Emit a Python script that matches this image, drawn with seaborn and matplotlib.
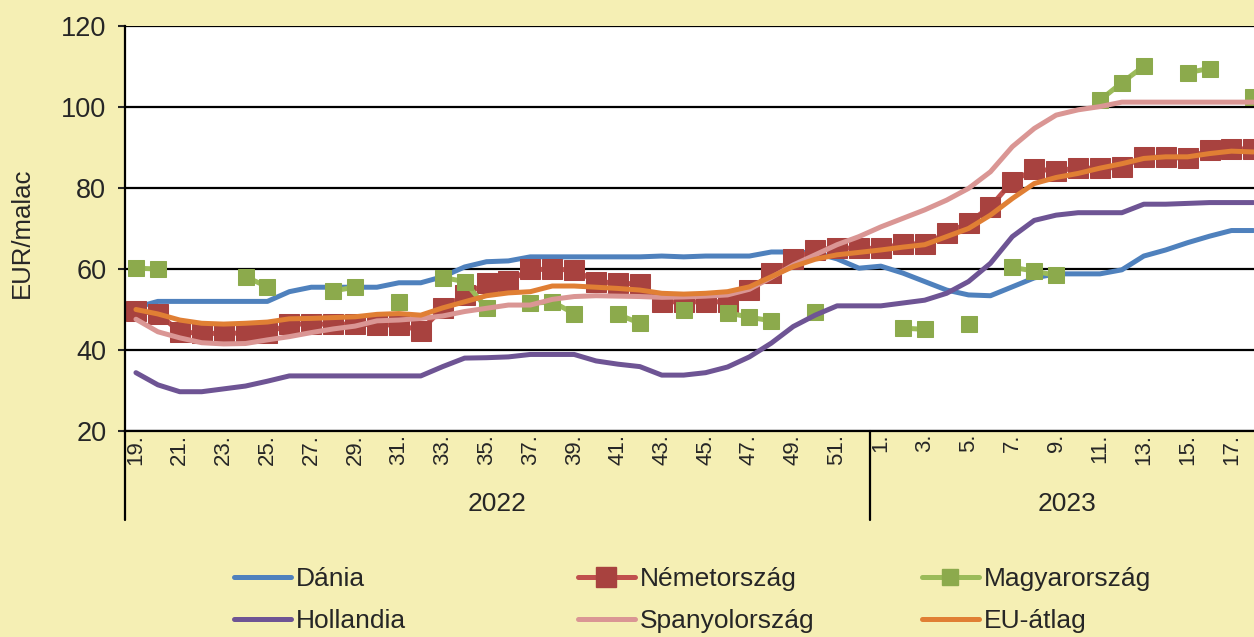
import matplotlib
matplotlib.use("Agg")
import matplotlib.pyplot as plt
import matplotlib.transforms as mtransforms
from matplotlib.lines import Line2D
import seaborn as sns
import pandas as pd
import numpy as np

# hetek: 2022. 19-52. hét, 2023. 1-18. hét
weeks_2022 = list(range(19, 53))
weeks_2023 = list(range(1, 19))
week_labels = [f"{w}." for w in weeks_2022 + weeks_2023]

dania = [50.5, 52, 52, 52, 52, 52, 52, 54.4, 55.5, 55.5, 55.5, 55.5, 56.6, 56.6, 58.1, 60.5, 61.8,
         62, 63, 63, 63, 63, 63, 63, 63.2, 63, 63.2, 63.2, 63.2, 64.2, 64.2, 64, 62.5, 60.2,
         60.7, 59, 56.9, 54.8, 53.6, 53.4, 55.6, 57.8, 58.8, 58.8, 58.8, 59.8, 63.2, 64.7, 66.5, 68.1, 69.5, 69.5]
nemetorszag = [49.6, 49, 44.5, 44.1, 44.1, 44.2, 44.2, 46.4, 46.4, 46.4, 46.4, 46.2, 46.2, 44.8, 50.3, 53.6, 56.5,
               57, 59.9, 59.9, 59.8, 56.9, 56.5, 56.3, 51.9, 51.9, 51.9, 51.9, 54.8, 58.9, 62.5, 64.7, 65.2, 65.1,
               65.1, 66.2, 66.2, 68.8, 71.4, 75.4, 81.6, 84.6, 84.3, 84.9, 84.9, 85.1, 87.6, 87.6, 87.3, 89.4, 89.7, 89.6]
magyarorszag = [60.2, 60, None, None, None, 58.1, 55.6, None, None, 54.6, 55.5, None, 51.9, None, 57.9, 56.9, 50.4,
                None, 51.5, 51.9, 49, None, 48.8, 46.6, None, 50, None, 49.2, 48.1, 47.2, None, 49.5, None, None,
                None, 45.4, 45.1, None, 46.4, None, 60.4, 59.5, 58.4, None, 101.7, 106, 110.1, None, 108.5, 109.5, None, 102.4]
hollandia = [34.4, 31.4, 29.7, 29.7, 30.4, 31.1, 32.3, 33.6, 33.6, 33.6, 33.6, 33.6, 33.6, 33.6, 35.9, 38, 38.1,
             38.3, 38.9, 38.9, 38.9, 37.3, 36.5, 35.9, 33.8, 33.8, 34.4, 35.8, 38.3, 41.7, 45.8, 48.6, 50.9, 50.9,
             50.9, 51.6, 52.3, 54, 56.9, 61.4, 68, 72, 73.3, 73.9, 73.9, 73.9, 76, 76, 76.2, 76.4, 76.4, 76.4]
spanyolorszag = [47.6, 44.5, 43, 41.8, 41.5, 41.6, 42.5, 43.3, 44.3, 45.2, 45.9, 47.2, 47.4, 47.8, 48.4, 49.5, 50.3,
                 51.1, 51.1, 52.5, 53.2, 53.4, 53.3, 53.2, 53, 53.1, 53.3, 53.6, 55, 57.9, 61, 63.5, 66, 68,
                 70.4, 72.5, 74.6, 77, 79.9, 84, 90.2, 94.7, 98, 99.3, 100.1, 101.2, 101.2, 101.2, 101.2, 101.2, 101.2, 101.2]
eu_atlag = [50, 48.9, 47.4, 46.6, 46.4, 46.6, 46.9, 47.7, 47.8, 48, 48.2, 48.8, 49, 48.6, 50.4, 51.9, 53.4,
            54.1, 54.4, 55.8, 55.8, 55.5, 55.2, 54.8, 54, 53.8, 54, 54.4, 55.6, 58.1, 60.6, 62.4, 63.5, 64.1,
            64.7, 65.4, 66, 68, 70, 73.3, 77.4, 81.1, 82.6, 83.6, 84.9, 86, 87.3, 87.7, 87.7, 88.5, 89.1, 88.9]

series = [
    ("Dánia", dania, "#4F81BD", None, None),
    ("Németország", nemetorszag, "#C0504D", "s", "#A8423F"),
    ("Magyarország", magyarorszag, "#9BBB59", "s", "#8CAA4C"),
    ("Hollandia", hollandia, "#6E5494", None, None),
    ("Spanyolország", spanyolorszag, "#DA9694", None, None),
    ("EU-átlag", eu_atlag, "#E07F34", None, None),
]

bg = "#F5EFB4"
sns.set_theme(style="white")
plt.rcParams['font.family'] = ['Liberation Sans', 'DejaVu Sans']

fig = plt.figure(figsize=(12.54, 6.37), dpi=100, facecolor=bg)
ax = fig.add_axes([125 / 1254, 1 - 431 / 637, (1254 - 125) / 1254, (431 - 26) / 637])
ax.set_facecolor("white")

x = np.arange(len(week_labels))
for name, vals, color, marker, mcolor in series:
    v = pd.Series(vals, dtype=float)
    # folytonos szakaszok (hiányzó hetek megszakítják a vonalat)
    seg = v.isna().cumsum()
    df = pd.DataFrame({"k": x, "v": v, "seg": seg}).dropna()
    kw = dict(color=color, linewidth=3.6, legend=False, ax=ax, units="seg", estimator=None)
    if marker:
        ms = 14 if name == "Németország" else 11
        kw.update(marker=marker, markersize=ms, markerfacecolor=mcolor, markeredgecolor=mcolor)
    sns.lineplot(data=df, x="k", y="v", **kw)

ax.set_xlim(-0.5, 51.03)
ax.set_ylim(20, 120)
ax.set_yticks(range(20, 121, 20))
ax.yaxis.grid(True, color="black", linewidth=1.6)
ax.set_axisbelow(True)
ax.set_xticks(x[::2])
ax.set_xticklabels(week_labels[::2], rotation=90, fontsize=16)
ax.tick_params(axis="x", length=0, pad=2)
ax.tick_params(axis="y", length=5, width=1.5, labelsize=19.5, left=True, pad=8.5)
ax.set_xlabel("")
ax.set_ylabel("EUR/malac", fontsize=18.5)
ax.yaxis.set_label_coords((34 - 125) / 1129, 0.49)
for s in ["top", "right"]:
    ax.spines[s].set_visible(False)
ax.spines["left"].set_color("black")
ax.spines["left"].set_linewidth(1.6)
ax.spines["bottom"].set_color("black")
ax.spines["bottom"].set_linewidth(1.6)

# év szerinti csoportosítás az x tengely alatt
trans = mtransforms.blended_transform_factory(ax.transData, ax.transAxes)
for xv in [-0.5, 33.5]:
    ax.plot([xv, xv], [0, -(520 - 431) / 405], color="black", linewidth=1.6,
            transform=trans, clip_on=False)
ax.text(16.5, -(504 - 431) / 405, "2022", transform=trans, ha="center", va="center", fontsize=19)
ax.text(42.5, -(504 - 431) / 405, "2023", transform=trans, ha="center", va="center", fontsize=19)

# jelmagyarázat: három oszlop
def handle(name, color, marker, mcolor):
    if marker:
        ms = 14 if name == "Németország" else 11
        return Line2D([], [], color=color, linewidth=3.6, marker=marker, markersize=ms,
                      markerfacecolor=mcolor, markeredgecolor=mcolor)
    return Line2D([], [], color=color, linewidth=3.6)

cols = [(0, 3), (1, 4), (2, 5)]
col_x = [234, 578, 922]
for (i, j), cx in zip(cols, col_x):
    hs = [handle(series[i][0], series[i][2], series[i][3], series[i][4]),
          handle(series[j][0], series[j][2], series[j][3], series[j][4])]
    fig.legend(hs, [series[i][0], series[j][0]], loc="upper left",
               bbox_to_anchor=(cx / 1254, 1 - 567 / 637), frameon=False, fontsize=19,
               handlelength=2.15, handletextpad=0.2, labelspacing=0.7,
               borderaxespad=0, borderpad=0)

fig.savefig("out.png", dpi=100, facecolor=bg)
